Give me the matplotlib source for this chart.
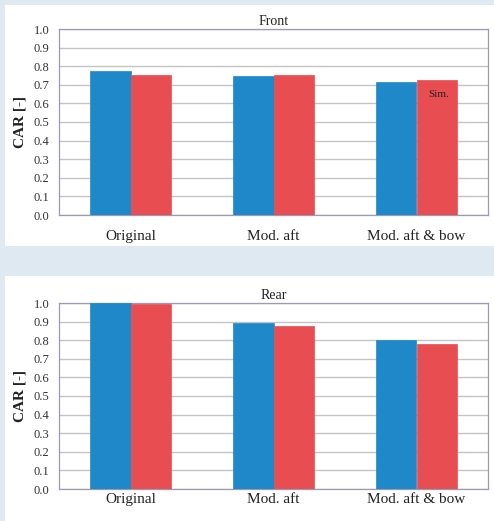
import matplotlib
matplotlib.use('Agg')
import matplotlib.pyplot as plt
import numpy as np
from matplotlib.patches import Rectangle

categories = ['Original', 'Mod. aft', 'Mod. aft & bow']
front_exp = [0.775, 0.745, 0.715]
front_sim = [0.752, 0.752, 0.725]
rear_exp = [1.0, 0.895, 0.80]
rear_sim = [0.997, 0.875, 0.78]
yticks = [0.0, 0.1, 0.2, 0.3, 0.4, 0.5, 0.6, 0.7, 0.8, 0.9, 1.0]

blue = '#1f88c8'
red = '#e84d51'
bg = '#dfe9f1'

plt.rcParams['font.family'] = ['Liberation Serif', 'DejaVu Serif']

fig = plt.figure(figsize=(4.94, 5.21), dpi=100)
fig.patch.set_facecolor(bg)
W, H = 494, 521

# white panels behind each chart
for (x0, y0, x1, y1) in [(5, 5, 494, 246), (5, 276, 494, 521)]:
    fig.patches.append(Rectangle((x0 / W, 1 - y1 / H), (x1 - x0) / W, (y1 - y0) / H,
                                 transform=fig.transFigure, facecolor='white',
                                 edgecolor='none', zorder=-5))


def panel(rect, title, exp, sim, label_pad):
    ax = fig.add_axes(rect)
    ax.set_zorder(2)
    x = np.arange(len(categories))
    w = 0.28
    ax.bar(x - w / 2, exp, width=w, color=blue, edgecolor=blue, linewidth=0.5, zorder=3)
    ax.bar(x + w / 2, sim, width=w, color=red, edgecolor=red, linewidth=0.5, zorder=3)
    ax.set_xlim(-0.5, 2.5)
    ax.set_ylim(0, 1.0)
    ax.set_yticks(yticks)
    ax.set_yticklabels([f'{t:.1f}' for t in yticks], fontsize=9, color='#333333')
    ax.set_xticks(x)
    ax.set_xticklabels(categories, fontsize=11, color='#222222')
    ax.tick_params(axis='y', length=0, pad=7)
    ax.tick_params(axis='x', length=0, pad=label_pad)
    ax.grid(axis='y', color='#c4c4c4', linewidth=1.0, zorder=1)
    for s in ax.spines.values():
        s.set_color('#9a9ab4')
        s.set_linewidth(0.9)
    ax.set_title(title, fontsize=10, pad=3, color='#222222')
    ax.set_ylabel('CAR [-]', fontsize=11, fontweight='bold', color='#222222', labelpad=5)
    return ax


left = 59 / W
width = 429 / W
ax1 = panel([left, 1 - 215 / H, width, 186 / H], 'Front', front_exp, front_sim, 11)
ax1.text(2.157, 0.65, 'Sim.', fontsize=8, ha='center', va='center', color='#222222', zorder=4)
ax2 = panel([left, 1 - 489 / H, width, 186 / H], 'Rear', rear_exp, rear_sim, 3)

fig.savefig('out.png', dpi=100, facecolor=fig.get_facecolor())
